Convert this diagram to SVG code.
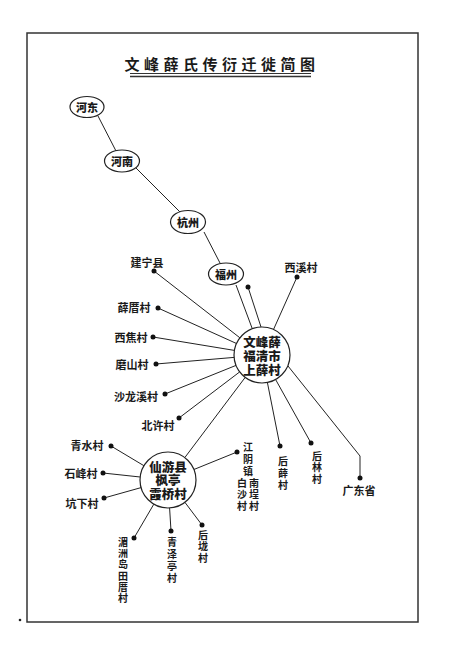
<svg xmlns="http://www.w3.org/2000/svg" width="450" height="657" viewBox="0 0 450 657">
<style>
text{font-family:"Noto Sans CJK SC","Noto Sans CJK TC",sans-serif;fill:#1a1a1a;}
.lbl{font-size:11px;font-weight:700;text-anchor:middle;dominant-baseline:central;}
.vl{font-size:10px;font-weight:700;writing-mode:tb;text-anchor:start;}
.node{font-size:11px;font-weight:900;text-anchor:middle;dominant-baseline:central;}
.hub{font-size:12.5px;font-weight:900;text-anchor:middle;dominant-baseline:central;}
.title{font-size:15px;font-weight:700;text-anchor:middle;dominant-baseline:central;letter-spacing:4.5px;}
.ln{stroke:#222;stroke-width:1;fill:none;}
.el{fill:#fff;stroke:#222;stroke-width:1.2;}
.dot{fill:#111;}
</style>
<rect x="27" y="33" width="391" height="589" fill="#fff" stroke="#333" stroke-width="1.5"/>
<circle cx="20" cy="620" r="1.3" fill="#222"/>
<g id="title">
<text class="title" x="222" y="63">文峰薛氏传衍迁徙简图</text>
<line x1="130" y1="73.5" x2="311" y2="73.5" stroke="#333" stroke-width="1"/>
<line x1="130" y1="76.5" x2="311" y2="76.5" stroke="#333" stroke-width="1.6"/>
</g>
<g id="connectors" class="ln">
<line x1="98" y1="116" x2="116" y2="151"/>
<line x1="136" y1="168" x2="180" y2="212"/>
<line x1="204" y1="232" x2="220" y2="263"/>
<line x1="236" y1="285" x2="252" y2="328"/>
<line x1="248" y1="287" x2="261" y2="327"/>
<line x1="154" y1="271" x2="239.9" y2="337.8"/>
<line x1="158" y1="308" x2="236.5" y2="343.5"/>
<line x1="153" y1="337" x2="234.4" y2="350.4"/>
<line x1="156" y1="364" x2="234.1" y2="357.4"/>
<line x1="165" y1="394" x2="236" y2="365.4"/>
<line x1="179" y1="418" x2="239.7" y2="371.9"/>
<line x1="297" y1="277" x2="273.5" y2="329.5"/>
<line x1="280" y1="446" x2="267.4" y2="382.5"/>
<line x1="311" y1="443" x2="275.6" y2="379.5"/>
<polyline points="288,366 360,456 360,478"/>
<line x1="245.2" y1="377.4" x2="184.8" y2="457.6"/>
<line x1="111" y1="446" x2="143.9" y2="465.7"/>
<line x1="103" y1="473" x2="140.2" y2="477"/>
<line x1="104" y1="498" x2="141.1" y2="487.6"/>
<line x1="134" y1="538" x2="153.8" y2="504.2"/>
<line x1="171" y1="531" x2="169.6" y2="508"/>
<line x1="202" y1="525" x2="184.9" y2="502.3"/>
<line x1="237" y1="452" x2="193.9" y2="469.5"/>
</g>
<g id="n-hedong"><ellipse class="el" cx="87" cy="107" rx="17" ry="10.5"/><text class="node" x="87" y="107">河东</text></g>
<g id="n-henan"><ellipse class="el" cx="122" cy="161" rx="17.5" ry="11"/><text class="node" x="122" y="161">河南</text></g>
<g id="n-hangzhou"><ellipse class="el" cx="188" cy="222" rx="17.5" ry="11.5"/><text class="node" x="188" y="222">杭州</text></g>
<g id="n-fuzhou"><ellipse class="el" cx="226" cy="274" rx="17.5" ry="11"/><text class="node" x="226" y="274">福州</text></g>
<g id="n-shangxue"><circle class="el" cx="262" cy="355" r="28"/>
<text class="hub" x="262" y="341">文峰薛</text><text class="hub" x="262" y="355">福清市</text><text class="hub" x="262" y="369">上薛村</text></g>
<g id="n-xianyou"><circle class="el" cx="168" cy="480" r="28"/>
<text class="hub" x="168" y="466">仙游县</text><text class="hub" x="168" y="479.5">枫亭</text><text class="hub" x="168" y="493">霞桥村</text></g>
<g id="dots" class="dot">
<circle cx="248" cy="287" r="2.5"/>
<circle cx="154" cy="271" r="2.5"/>
<circle cx="158" cy="308" r="2.5"/>
<circle cx="153" cy="337" r="2.5"/>
<circle cx="156" cy="364" r="2.5"/>
<circle cx="165" cy="394" r="2.5"/>
<circle cx="179" cy="418" r="2.5"/>
<circle cx="297" cy="277" r="2.5"/>
<circle cx="280" cy="446" r="2.5"/>
<circle cx="311" cy="443" r="2.5"/>
<circle cx="360" cy="478" r="2.5"/>
<circle cx="111" cy="446" r="2.5"/>
<circle cx="103" cy="473" r="2.5"/>
<circle cx="104" cy="498" r="2.5"/>
<circle cx="134" cy="538" r="2.5"/>
<circle cx="171" cy="531" r="2.5"/>
<circle cx="202" cy="525" r="2.5"/>
<circle cx="237" cy="452" r="2.5"/>
</g>
<g id="n-jianning"><text class="lbl" x="147" y="262">建宁县</text></g>
<g id="n-xuecuo"><text class="lbl" x="134" y="307">薛厝村</text></g>
<g id="n-xijiao"><text class="lbl" x="131" y="337">西焦村</text></g>
<g id="n-moshan"><text class="lbl" x="132" y="364">磨山村</text></g>
<g id="n-shalongxi"><text class="lbl" x="136" y="396">沙龙溪村</text></g>
<g id="n-beixu"><text class="lbl" x="158" y="425">北许村</text></g>
<g id="n-xixi"><text class="lbl" x="301" y="267">西溪村</text></g>
<g id="n-guangdong"><text class="lbl" x="359" y="490">广东省</text></g>
<g id="n-qingshui"><text class="lbl" x="87" y="445">青水村</text></g>
<g id="n-shifeng"><text class="lbl" x="81" y="473">石峰村</text></g>
<g id="n-kengxia"><text class="lbl" x="82" y="503">坑下村</text></g>
<g id="n-houxue"><text class="vl" x="283" y="456" letter-spacing="2">后薛村</text></g>
<g id="n-houlin"><text class="vl" x="317" y="451" letter-spacing="1.5">后林村</text></g>
<g id="n-meizhou"><text class="vl" x="123" y="537" letter-spacing="1.3">湄洲岛田厝村</text></g>
<g id="n-qingzeting"><text class="vl" x="172" y="537" letter-spacing="2">青泽亭村</text></g>
<g id="n-houlong"><text class="vl" x="203" y="530" letter-spacing="1.5">后垅村</text></g>
<g id="n-jiangyin">
<text class="vl" x="248" y="442" letter-spacing="2">江阴镇</text>
<text class="vl" x="242" y="478" letter-spacing="1.5">白沙村</text>
<text class="vl" x="254" y="478" letter-spacing="1.5">南埕村</text>
</g>
</svg>
